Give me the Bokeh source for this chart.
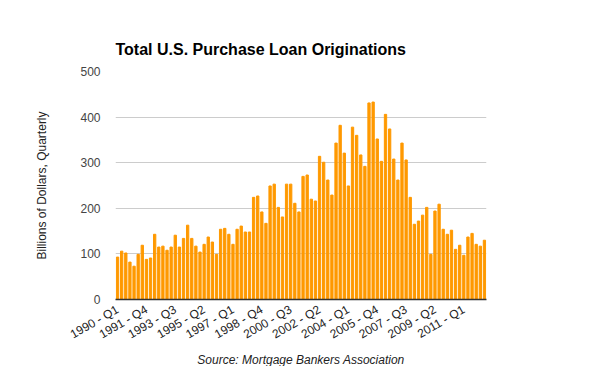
import math
from bokeh.plotting import figure
from bokeh.models import Range1d, FixedTicker, Title
from bokeh.embed import file_html
from bokeh.resources import INLINE

years = list(range(1990, 2013))
quarters = [f"{y} - Q{q}" for y in years for q in (1, 2, 3, 4)][:90]

values = [93, 106, 102, 82, 73, 99, 119, 88, 91, 143,
          115, 117, 108, 115, 141, 115, 134, 163, 134, 117,
          104, 121, 137, 126, 99, 154, 156, 143, 121, 154,
          161, 148, 148, 224, 227, 192, 167, 249, 253, 202,
          181, 253, 253, 211, 192, 270, 273, 220, 216, 314,
          301, 262, 229, 343, 382, 321, 249, 378, 360, 317,
          292, 431, 433, 352, 303, 406, 374, 308, 262, 343,
          306, 224, 165, 172, 185, 202, 99, 194, 209, 154,
          143, 152, 110, 119, 97, 137, 145, 121, 117, 130]

tick_positions = list(range(0, 90, 7))
tick_labels = [quarters[i] for i in tick_positions]
y_ticks = [0, 100, 200, 300, 400, 500]

FONT = "Liberation Sans"

p = figure(frame_width=371, frame_height=228, output_backend="svg", toolbar_location=None,
           x_range=Range1d(-0.5, len(values) - 0.5), y_range=Range1d(0, 500),
           min_border_left=115, min_border_right=106, min_border_top=71,
           min_border_bottom=60)

p.vbar(x=list(range(len(values))), top=values, width=0.56, color="#ff9900")

p.title.text = "Total U.S. Purchase Loan Originations"
p.title.text_font = FONT
p.title.text_font_size = "16px"
p.title.text_font_style = "bold"
p.title.text_color = "#000000"
p.title.align = "left"
p.title.standoff = 28

src = Title(text="Source: Mortgage Bankers Association", align="center",
            text_font=FONT, text_font_size="12px", text_font_style="italic",
            text_color="#222222", standoff=0)
p.add_layout(src, "below")

p.outline_line_color = None
p.background_fill_color = "white"
p.border_fill_color = "white"

p.xgrid.grid_line_color = None
p.ygrid.grid_line_color = "#cccccc"
p.ygrid.grid_line_width = 1

p.xaxis.ticker = FixedTicker(ticks=tick_positions)
p.xaxis.major_label_overrides = {i: lab for i, lab in zip(tick_positions, tick_labels)}
p.xaxis.major_label_orientation = math.pi / 6
p.xaxis.major_label_text_font = FONT
p.xaxis.major_label_text_font_size = "12px"
p.xaxis.major_label_text_color = "#222222"
p.xaxis.axis_line_color = "#333333"
p.xaxis.axis_line_width = 1.5
p.xaxis.major_tick_line_color = None
p.xaxis.minor_tick_line_color = None
p.xaxis.major_label_standoff = 3

p.yaxis.ticker = FixedTicker(ticks=y_ticks)
p.yaxis.axis_label = "Billions of Dollars, Quarterly"
p.yaxis.axis_label_text_font = FONT
p.yaxis.axis_label_text_font_size = "12px"
p.yaxis.axis_label_text_font_style = "normal"
p.yaxis.axis_label_text_color = "#222222"
p.yaxis.axis_label_standoff = 28
p.yaxis.major_label_text_font = FONT
p.yaxis.major_label_text_font_size = "12px"
p.yaxis.major_label_text_color = "#444444"
p.yaxis.major_label_standoff = 9
p.yaxis.axis_line_color = None
p.yaxis.major_tick_line_color = None
p.yaxis.minor_tick_line_color = None

open("out.html", "w").write(file_html(p, INLINE))
